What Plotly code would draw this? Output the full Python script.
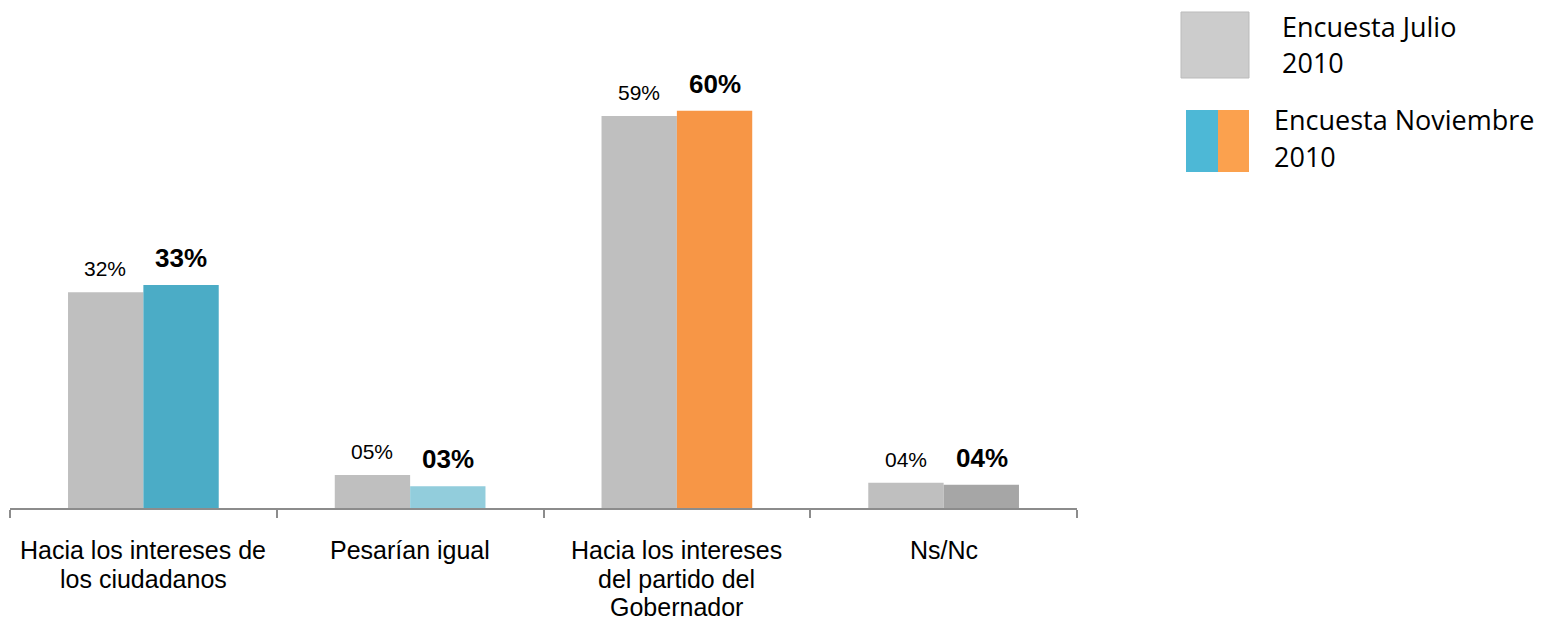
import plotly.graph_objects as go

categories = ["Hacia los intereses de<br>los ciudadanos", "Pesarían igual",
              "Hacia los intereses<br>del partido del<br>Gobernador", "Ns/Nc"]
julio_values = [32.6, 5.0, 59.2, 3.8]
noviembre_values = [33.7, 3.3, 60.0, 3.5]
julio_labels = ["32%", "05%", "59%", "04%"]
noviembre_labels = ["33%", "03%", "60%", "04%"]
julio_color = "#BFBFBF"
noviembre_colors = ["#4BACC6", "#92CDDC", "#F79646", "#A6A6A6"]
legend_names = ["Encuesta Julio<br>2010", "Encuesta Noviembre<br>2010"]

OFF = 8  # page body margin
W, H = 1565 - OFF, 622 - OFF
L, T = 10 - OFF, 10 - OFF
pw = 1077 - 10
ph = 508 - 10
R = W - L - pw
B = H - T - ph

fig = go.Figure()
fig.add_trace(go.Bar(x=categories, y=julio_values, marker=dict(color=julio_color, line=dict(width=0)),
                     showlegend=False, hoverinfo="skip"))
fig.add_trace(go.Bar(x=categories, y=noviembre_values, marker=dict(color=noviembre_colors, line=dict(width=0)),
                     showlegend=False, hoverinfo="skip"))

annotations = []
for c, v, t in zip(categories, julio_values, julio_labels):
    annotations.append(dict(x=c, y=v, text=t, showarrow=False, xshift=-38, yshift=10,
                            yanchor="bottom", font=dict(family="Liberation Sans, Arial", size=21, color="#000")))
for c, v, t in zip(categories, noviembre_values, noviembre_labels):
    annotations.append(dict(x=c, y=v, text="<b>%s</b>" % t, showarrow=False, xshift=38, yshift=10,
                            yanchor="bottom", font=dict(family="Liberation Sans, Arial", size=26, color="#000")))

def px_x(px):
    return (px - 10) / pw

def px_y(py):
    return (508 - py) / ph

# category labels, one line at a time for tighter line spacing
for c in categories:
    for i, line in enumerate(c.split("<br>")):
        annotations.append(dict(x=c, xref="x", yref="paper", y=px_y(550 + 28.5 * i), text=line,
                                showarrow=False, yanchor="middle",
                                font=dict(family="Liberation Sans, Arial", size=25, color="#000")))

shapes = [
    dict(type="rect", xref="paper", yref="paper", x0=px_x(1181), x1=px_x(1249), y0=px_y(78), y1=px_y(12),
         fillcolor="#CCCCCC", line=dict(color="#BBBBBB", width=1)),
    dict(type="rect", xref="paper", yref="paper", x0=px_x(1186), x1=px_x(1218), y0=px_y(172), y1=px_y(110),
         fillcolor="#4DB8D6", line=dict(width=0)),
    dict(type="rect", xref="paper", yref="paper", x0=px_x(1218), x1=px_x(1249), y0=px_y(172), y1=px_y(110),
         fillcolor="#FBA14E", line=dict(width=0)),
]
legend_x = [1280, 1272]
legend_y = [27, 120]
for name, lx, ly in zip(legend_names, legend_x, legend_y):
    for i, line in enumerate(name.split("<br>")):
        annotations.append(dict(xref="paper", yref="paper", x=px_x(lx), y=px_y(ly + 36 * i), text=line,
                                showarrow=False, xanchor="left", yanchor="middle", align="left",
                                font=dict(family="Open Sans", size=27, color="#000")))

fig.update_layout(
    width=W, height=H, margin=dict(l=L, r=R, t=T, b=B),
    paper_bgcolor="white", plot_bgcolor="white",
    barmode="group", bargap=0.435, bargroupgap=0,
    annotations=annotations, shapes=shapes,
    xaxis=dict(showline=True, linecolor="#8C8C8C", linewidth=1.5, ticks="outside", tickson="boundaries",
               ticklen=8, tickcolor="#8C8C8C", tickwidth=1.5, showgrid=False, showticklabels=False),
    yaxis=dict(range=[0, ph / 6.62], visible=False, showgrid=False),
)
fig.write_html("out.html")
